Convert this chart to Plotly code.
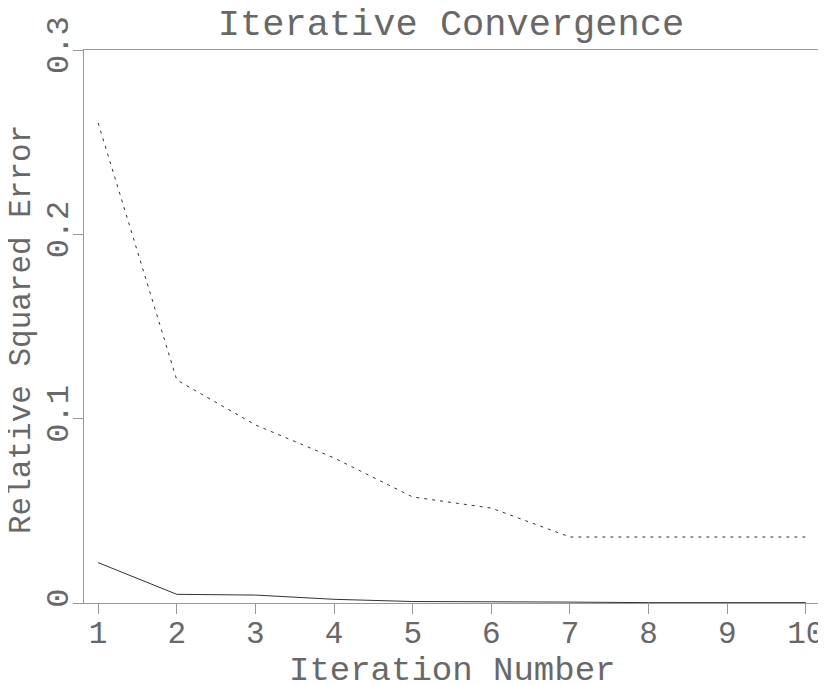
import plotly.graph_objects as go

iterations = [1, 2, 3, 4, 5, 6, 7, 8, 9, 10]
dashed_err = [0.2604, 0.121, 0.0966, 0.0787, 0.0575, 0.0515, 0.0358, 0.0358, 0.0358, 0.0358]
solid_err = [0.0219, 0.0047, 0.0043, 0.0020, 0.0008, 0.0008, 0.0005, 0.0002, 0.0002, 0.0002]
x_ticks = [1, 2, 3, 4, 5, 6, 7, 8, 9, 10]
y_ticks = [0, 0.1, 0.2, 0.3]
y_tick_labels = ["0", "0.1", "0.2", "0.3"]

FONT = "Liberation Mono"
TXT = "#686868"
AX = "#999999"

fig = go.Figure()
fig.add_trace(go.Scatter(x=iterations, y=dashed_err, mode="lines",
                         line=dict(color="#333333", width=1, dash="3px,5px"),
                         showlegend=False))
fig.add_trace(go.Scatter(x=iterations, y=solid_err, mode="lines",
                         line=dict(color="#333333", width=1),
                         showlegend=False))

fig.update_layout(
    width=818, height=677,
    margin=dict(l=76, r=6, t=42, b=82, autoexpand=False),
    paper_bgcolor="white", plot_bgcolor="white",
    title=dict(text="Iterative Convergence", x=443 / 818, xanchor="center",
               y=1 - 14 / 677, yref="container", yanchor="middle", automargin=False,
               font=dict(family=FONT, size=37, color=TXT)),
    xaxis=dict(range=[0.82, 10.18], tickvals=x_ticks, ticks="outside", ticklen=10,
               tickcolor=AX, showline=True, linecolor=AX, linewidth=1, mirror=True,
               showgrid=False, zeroline=False, automargin=False, ticklabelstandoff=-8,
               tickfont=dict(family=FONT, size=31, color=TXT)),
    yaxis=dict(range=[0, 0.3], tickvals=y_ticks, ticktext=y_tick_labels, tickangle=-90,
               ticks="outside", ticklen=10, tickcolor=AX,
               showline=True, linecolor=AX, linewidth=1, mirror=True,
               showgrid=False, zeroline=False, automargin=False, ticklabelstandoff=-8,
               tickfont=dict(family=FONT, size=32, color=TXT)),
    annotations=[
        dict(text="Iteration Number", xref="paper", yref="paper", x=0.5, y=(595 - 663) / 553,
             xanchor="center", yanchor="middle", showarrow=False,
             font=dict(family=FONT, size=34, color=TXT)),
        dict(text="Relative Squared Error", xref="paper", yref="paper",
             x=(14 - 76) / 736, y=0.4937,
             xanchor="center", yanchor="middle", showarrow=False, textangle=-90,
             font=dict(family=FONT, size=31, color=TXT)),
    ],
)

fig.write_html("out.html")
